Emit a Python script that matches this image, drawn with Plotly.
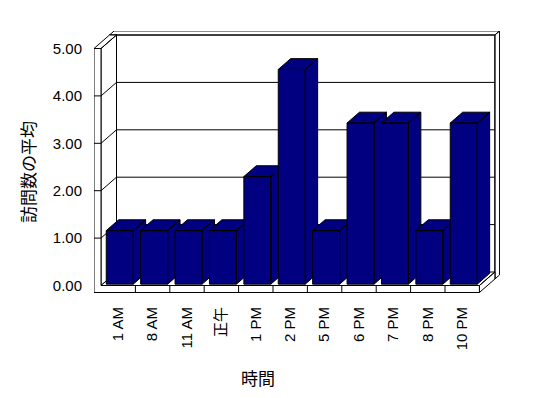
import plotly.graph_objects as go

# ---------------- data ----------------
categories = ["1 AM", "8 AM", "11 AM", "正午", "1 PM", "2 PM", "5 PM", "6 PM", "7 PM", "8 PM", "10 PM"]
values = [1.13, 1.13, 1.13, 1.13, 2.27, 4.53, 1.13, 3.40, 3.40, 1.13, 3.40]
y_ticks = [0, 1, 2, 3, 4, 5]
y_tick_labels = ["0.00", "1.00", "2.00", "3.00", "4.00", "5.00"]
x_title = "時間"
y_title = "訪問数の平均"

# ---------------- geometry (pixel calibration) ----------------
W, H = 548, 398
PL, PR, PT, PB = 94, 500, 31, 294      # plot area bounds in pixels
CAT_L_PX = 101.0                        # category axis start on the front plane
CW = 34.4                               # px per category
Y0_PX = 285.5                           # px of value 0 on the front plane
VU = 47.4                               # px per value unit


def px2x(px):
    return (px - CAT_L_PX) / CW - 0.5


def py2y(py):
    return (Y0_PX - py) / VU


DX = 15.5 / CW       # depth offset (x) for z = 1
DY = 13.5 / VU       # depth offset (y) for z = 1
TX = 7.0 / CW        # left wall thickness
TY = 7.0 / VU        # floor thickness
TZ = 0.3             # back wall thickness (z units)

n = len(categories)
xL = -0.5
xR = n - 0.5
yT = max(y_ticks)


def P(x, y, z):
    return (x + z * DX, y + z * DY)


def poly(pts):
    xs = [p[0] for p in pts] + [pts[0][0]]
    ys = [p[1] for p in pts] + [pts[0][1]]
    return xs, ys


def box_faces(x0, x1, y0, y1, z0, z1):
    front = [P(x0, y0, z0), P(x1, y0, z0), P(x1, y1, z0), P(x0, y1, z0)]
    top = [P(x0, y1, z0), P(x1, y1, z0), P(x1, y1, z1), P(x0, y1, z1)]
    right = [P(x1, y0, z0), P(x1, y0, z1), P(x1, y1, z1), P(x1, y1, z0)]
    return [front, top, right]


def faces_trace(faces, fill):
    xs, ys = [], []
    for f in faces:
        fx, fy = poly(f)
        xs += fx + [None]
        ys += fy + [None]
    return go.Scatter(x=xs, y=ys, mode="lines", fill="toself", fillcolor=fill,
                      line=dict(color="black", width=1), hoverinfo="skip",
                      showlegend=False)


def lines_trace(segments):
    xs, ys = [], []
    for a, b in segments:
        xs += [a[0], b[0], None]
        ys += [a[1], b[1], None]
    return go.Scatter(x=xs, y=ys, mode="lines", line=dict(color="black", width=1),
                      hoverinfo="skip", showlegend=False)


fig = go.Figure()

# back wall
fig.add_trace(faces_trace(box_faces(xL - TX, xR, -TY, yT, 1, 1 + TZ), "white"))
# left wall top + inner face
fig.add_trace(faces_trace([
    [P(xL - TX, yT, 0), P(xL, yT, 0), P(xL, yT, 1), P(xL - TX, yT, 1)],
    [P(xL, 0, 0), P(xL, 0, 1), P(xL, yT, 1), P(xL, yT, 0)],
], "white"))
# floor top + right face
fig.add_trace(faces_trace([
    [P(xL, 0, 0), P(xR, 0, 0), P(xR, 0, 1), P(xL, 0, 1)],
    [P(xR, -TY, 0), P(xR, -TY, 1), P(xR, 0, 1), P(xR, 0, 0)],
], "white"))
# L-shaped front face of left wall + floor
fig.add_trace(faces_trace([[
    P(xL - TX, -TY, 0), P(xR, -TY, 0), P(xR, 0, 0), P(xL, 0, 0),
    P(xL, yT, 0), P(xL - TX, yT, 0)]], "white"))

# gridlines, ticks, category dividers
segs = []
for v in y_ticks[1:-1]:
    segs.append((P(xL, v, 1), P(xR, v, 1)))         # back wall gridline
    segs.append((P(xL, v, 0), P(xL, v, 1)))         # side wall line
    segs.append((P(xL - TX, v, 0), P(xL, v, 0)))    # tick on front face
for k in range(1, n):
    segs.append((P(xL + k, -TY, 0), P(xL + k, 0, 0)))
fig.add_trace(lines_trace(segs))

# bars (3D columns)
BW = 27.0 / CW / 2
ZB0, ZB1 = 0.1, 0.9
for i, v in enumerate(values):
    fig.add_trace(faces_trace(box_faces(i - BW, i + BW, 0, v, ZB0, ZB1), "#000080"))

font_latin = "Liberation Sans, Arial, Noto Sans CJK JP"
font_cjk = "Noto Sans CJK JP, Liberation Sans"

fig.update_layout(
    width=W, height=H, autosize=False,
    margin=dict(l=PL, r=W - PR, t=PT, b=H - PB, pad=0),
    paper_bgcolor="white", plot_bgcolor="white",
    font=dict(family=font_latin, size=15, color="black"),
    xaxis=dict(range=[px2x(PL), px2x(PR)], showgrid=False, zeroline=False,
               showline=False, tickmode="array", tickvals=list(range(n)),
               ticktext=categories, tickangle=-90, ticks="",
               ticklabelstandoff=9, fixedrange=True),
    yaxis=dict(range=[py2y(PB), py2y(PT)], showgrid=False, zeroline=False,
               showline=False, tickmode="array", tickvals=y_ticks,
               ticktext=y_tick_labels, ticks="", ticklabelstandoff=11,
               fixedrange=True),
    annotations=[
        dict(text=y_title, xref="paper", yref="paper",
             x=(27.5 - PL) / (PR - PL), y=(PB - 172.5) / (PB - PT),
             xanchor="center", yanchor="middle", textangle=-90, showarrow=False,
             font=dict(family=font_cjk, size=17, color="black")),
        dict(text=x_title, xref="paper", yref="paper",
             x=(258 - PL) / (PR - PL), y=(PB - 377) / (PB - PT),
             xanchor="center", yanchor="middle", showarrow=False,
             font=dict(family=font_cjk, size=17, color="black")),
    ],
)

fig.write_html("out.html")
